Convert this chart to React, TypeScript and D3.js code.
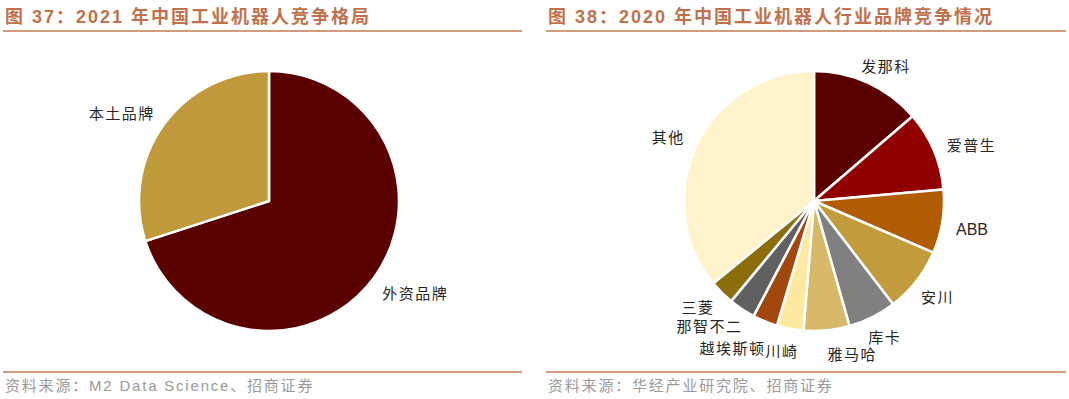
import React from "react";
import * as d3 from "d3";

const leftTitle = "图 37：2021 年中国工业机器人竞争格局";
const rightTitle = "图 38：2020 年中国工业机器人行业品牌竞争情况";
const leftSource = "资料来源：M2 Data Science、招商证券";
const rightSource = "资料来源：华经产业研究院、招商证券";

const leftCategories = ["外资品牌", "本土品牌"];
const leftValues = [70, 30];
const leftColors = ["#5a0000", "#c09a3a"];

const rightCategories = ["发那科", "爱普生", "ABB", "安川", "库卡", "雅马哈", "川崎", "越埃斯顿", "那智不二", "三菱", "其他"];
const rightValues = [13.7, 9.9, 7.9, 8.1, 6.0, 5.7, 3.3, 3.1, 3.3, 3.1, 35.9];
const rightColors = ["#5a0000", "#910000", "#b15c02", "#c29c3c", "#808080", "#d8b96a", "#fde9a0", "#a2470d", "#606060", "#8c6d0c", "#fef3cb"];

// label nudges (layout only)
const leftNudges: [number, number][] = [[7, -10], [-8, 13]];
const rightNudges: [number, number][] = [[6, 8], [12, 5], [2, 3], [-1, -2], [0, -6], [23, -5], [-3, -6], [-22, 0], [-17, -7], [-4, -6], [-3, 3]];

const TITLE_COLOR = "#c0714b";
const LINE_COLOR = "#d39a7c";
const LABEL_FONT = "'Noto Sans CJK SC', 'Noto Sans', sans-serif";
const MIXED_FONT = "'Liberation Sans', Arial, 'Noto Sans CJK SC', sans-serif";

type PieProps = {
  cx: number; cy: number; r: number; labelR: number;
  cats: string[]; vals: number[]; colors: string[]; nudges: [number, number][];
};

function Pie({ cx, cy, r, labelR, cats, vals, colors, nudges }: PieProps) {
  const pie = d3.pie<number>().sort(null).value((d) => d)(vals);
  const arc = d3.arc<d3.PieArcDatum<number>>().innerRadius(0).outerRadius(r);
  return (
    <g transform={`translate(${cx},${cy})`}>
      {pie.map((p, i) => (
        <path key={i} d={arc(p) || ""} fill={colors[i]} stroke="#ffffff" strokeWidth={2.5} strokeLinejoin="round" />
      ))}
      {pie.map((p, i) => {
        const a = (p.startAngle + p.endAngle) / 2;
        const x = labelR * Math.sin(a) + nudges[i][0];
        const y = -labelR * Math.cos(a) + nudges[i][1];
        const isLatin = /^[A-Za-z]+$/.test(cats[i]);
        return (
          <text key={"t" + i} x={x} y={y} textAnchor="middle" dominantBaseline="central"
            fontFamily={isLatin ? "'Liberation Sans', Arial, sans-serif" : LABEL_FONT}
            fontSize={isLatin ? 16 : 15} fill="#262626" letterSpacing={isLatin ? 0 : 1.5}>
            {cats[i]}
          </text>
        );
      })}
    </g>
  );
}

function Panel({ x0, x1, title, source }: { x0: number; x1: number; title: string; source: string }) {
  return (
    <g>
      <text x={x0 + 2} y={17} dominantBaseline="central" fontFamily={MIXED_FONT}
        fontWeight={700} fontSize={18} fill={TITLE_COLOR} letterSpacing={2}>{title}</text>
      <line x1={x0} x2={x1} y1={31} y2={31} stroke={LINE_COLOR} strokeWidth={2} />
      <line x1={x0} x2={x1} y1={372} y2={372} stroke={LINE_COLOR} strokeWidth={2} />
      <text x={x0 + 2} y={385} dominantBaseline="central" fontFamily={MIXED_FONT}
        fontSize={15} fill="#9a9a9a" letterSpacing={1.8}>{source}</text>
    </g>
  );
}

export default function App() {
  return (
    <svg width={1069} height={399} style={{ position: "absolute", left: 0, top: 0, background: "#ffffff" }}>
      <rect width={1069} height={399} fill="#ffffff" />
      <Panel x0={3} x1={522} title={leftTitle} source={leftSource} />
      <Panel x0={546} x1={1066} title={rightTitle} source={rightSource} />
      <Pie cx={269} cy={201} r={130} labelR={172} cats={leftCategories} vals={leftValues} colors={leftColors} nudges={leftNudges} />
      <Pie cx={814} cy={201} r={130} labelR={158} cats={rightCategories} vals={rightValues} colors={rightColors} nudges={rightNudges} />
    </svg>
  );
}
